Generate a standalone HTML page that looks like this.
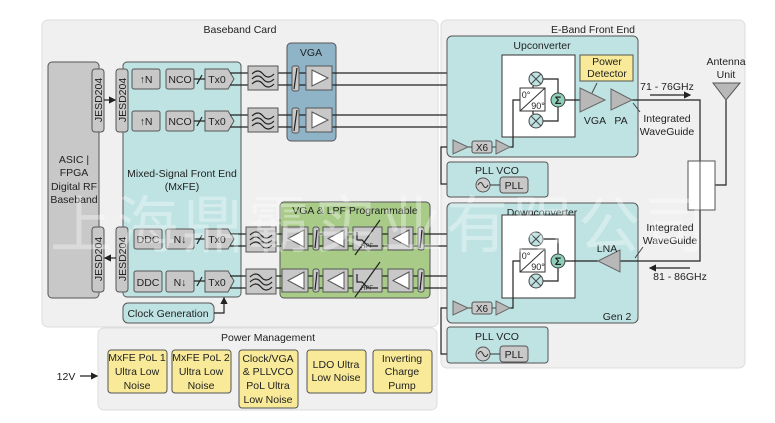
<!DOCTYPE html>
<html><head><meta charset="utf-8"><style>
body{margin:0;background:#fff}
svg{display:block}
text{font-family:"Liberation Sans","Noto Sans CJK SC",sans-serif;font-size:10.5px;fill:#222;text-anchor:middle}
.b{stroke:#555;stroke-width:1}
.g{fill:#c8c8c8;stroke:#555}
.l{stroke:#222;stroke-width:1.2;fill:none}
</style></head><body>
<svg width="775" height="423" viewBox="0 0 775 423" xmlns="http://www.w3.org/2000/svg">
<defs>
<marker id="ar" markerWidth="6" markerHeight="6" refX="5" refY="3" orient="auto"><path d="M0,0 L6,3 L0,6z" fill="#222"/></marker>
</defs>
<rect x="42" y="20" width="396" height="307" rx="6" fill="#f0f0f0" stroke="#ddd"/>
<text x="240" y="33">Baseband Card</text>
<rect x="441" y="20" width="304" height="348" rx="6" fill="#f0f0f0" stroke="#ddd"/>
<text x="593" y="33">E-Band Front End</text>
<rect x="98" y="328" width="339" height="82" rx="6" fill="#f0f0f0" stroke="#ddd"/>
<text x="268" y="341">Power Management</text>

<rect x="48" y="62" width="51" height="236" rx="4" class="g"/>
<text x="74" y="163">ASIC |</text><text x="74" y="176">FPGA</text><text x="74" y="190">Digital RF</text><text x="74" y="203">Baseband</text>
<rect x="123" y="62" width="118" height="235" rx="4" fill="#bfe3e3" stroke="#555"/>
<text x="182" y="177">Mixed-Signal Front End</text><text x="182" y="190">(MxFE)</text>
<g class="g">
<rect x="92" y="69" width="12" height="63" rx="3"/><rect x="116" y="69" width="12" height="63" rx="3"/>
<rect x="92" y="227" width="12" height="65" rx="3"/><rect x="116" y="227" width="12" height="65" rx="3"/>
</g>
<g style="font-size:10px">
<text transform="translate(102,100) rotate(-90)">JESD204</text>
<text transform="translate(126,100) rotate(-90)">JESD204</text>
<text transform="translate(102,259) rotate(-90)">JESD204</text>
<text transform="translate(126,259) rotate(-90)">JESD204</text>
</g>
<line x1="104" y1="100" x2="115" y2="100" class="l" marker-end="url(#ar)"/>
<line x1="116" y1="258" x2="105" y2="258" class="l" marker-end="url(#ar)"/>

<g class="g">
<rect x="132" y="69" width="28" height="20" rx="2"/><rect x="166" y="69" width="28" height="20" rx="2"/>
<rect x="132" y="111" width="28" height="20" rx="2"/><rect x="166" y="111" width="28" height="20" rx="2"/>
<rect x="134" y="229" width="28" height="20" rx="2"/><rect x="166" y="229" width="28" height="20" rx="2"/>
<rect x="134" y="271" width="28" height="21" rx="2"/><rect x="166" y="271" width="28" height="21" rx="2"/>
<path d="M205,69 H228 L234,79 L228,89 H205z"/><path d="M205,111 H228 L234,121 L228,131 H205z"/>
<path d="M205,229 H228 L234,239 L228,249 H205z"/><path d="M205,271 H228 L234,281 L228,292 H205z"/>
</g>
<text x="146" y="83">↑N</text><text x="180" y="83">NCO</text><text x="217" y="83">Tx0</text>
<text x="146" y="125">↑N</text><text x="180" y="125">NCO</text><text x="217" y="125">Tx0</text>
<text x="148" y="243">DDC</text><text x="180" y="243">N↓</text><text x="217" y="243">Tx0</text>
<text x="148" y="286">DDC</text><text x="180" y="286">N↓</text><text x="217" y="286">Tx0</text>
<g class="l"><path d="M194,79H205M197,84l5,-9"/><path d="M194,121H205M197,126l5,-9"/><path d="M194,239H205M197,244l5,-9"/><path d="M194,281H205M197,286l5,-9"/></g>
<rect x="123" y="303" width="91" height="20" rx="5" fill="#bfe3e3" stroke="#555"/>
<text x="168" y="317">Clock Generation</text>
<path d="M214,313H224V298" class="l" marker-end="url(#ar)"/>

<rect x="287" y="43" width="49" height="98" rx="4" fill="#8fb4c8" stroke="#555"/>
<text x="311" y="56">VGA</text>
<rect x="280" y="202" width="150" height="96" rx="4" fill="#a8cc88" stroke="#555"/>
<text x="355" y="214">VGA &amp; LPF Programmable</text>

<g stroke="#222" stroke-width="1.2">
<line x1="230" y1="73" x2="528" y2="73"/><line x1="230" y1="85" x2="528" y2="85"/>
<line x1="230" y1="115" x2="528" y2="115"/><line x1="230" y1="127" x2="528" y2="127"/>
<line x1="230" y1="234" x2="528" y2="234"/><line x1="230" y1="246" x2="528" y2="246"/>
<line x1="230" y1="276" x2="528" y2="276"/><line x1="230" y1="288" x2="528" y2="288"/>
</g>
<g class="g">
<rect x="248" y="66" width="30" height="24"/><rect x="248" y="108" width="30" height="24"/>
<rect x="246" y="227" width="30" height="25"/><rect x="246" y="269" width="30" height="25"/>
</g>
<g class="l" stroke-width="1">
<path d="M252,74q6,-6 11,0t11,0M252,79q6,-6 11,0t11,0M252,84q6,-6 11,0t11,0"/>
<path d="M252,116q6,-6 11,0t11,0M252,121q6,-6 11,0t11,0M252,126q6,-6 11,0t11,0"/>
<path d="M250,235q6,-6 11,0t11,0M250,240q6,-6 11,0t11,0M250,245q6,-6 11,0t11,0"/>
<path d="M250,277q6,-6 11,0t11,0M250,282q6,-6 11,0t11,0M250,287q6,-6 11,0t11,0"/>
</g>
<g class="g">
<rect x="292" y="66" width="7" height="25" rx="2"/><rect x="306" y="66" width="26" height="24"/>
<rect x="292" y="108" width="7" height="25" rx="2"/><rect x="306" y="108" width="26" height="24"/>
</g>
<path d="M312,70L328,78L312,86z M312,112L328,120L312,128z" fill="#fff" stroke="#555"/>
<path d="M294,89L297,68M294,131L297,110" class="l"/>
<g class="g">
<rect x="282" y="227" width="26" height="23"/><rect x="313" y="227" width="6" height="23" rx="2"/>
<rect x="323" y="227" width="25" height="23"/><rect x="353" y="227" width="29" height="23"/>
<rect x="388" y="227" width="25" height="23"/><rect x="418" y="227" width="6" height="23" rx="2"/>
<rect x="282" y="269" width="26" height="23"/><rect x="313" y="269" width="6" height="23" rx="2"/>
<rect x="323" y="269" width="25" height="23"/><rect x="353" y="269" width="29" height="23"/>
<rect x="388" y="269" width="25" height="23"/><rect x="418" y="269" width="6" height="23" rx="2"/>
</g>
<g fill="#fff" stroke="#555">
<path d="M304,230L288,238.5L304,247z M344,230L328,238.5L344,247z M409,230L393,238.5L409,247z"/>
<path d="M304,272L288,280.5L304,289z M344,272L328,280.5L344,289z M409,272L393,280.5L409,289z"/>
</g>
<g class="l" stroke-width="1">
<path d="M315,248L317,230M420,248L422,230M315,290L317,272M420,290L422,272"/>
<path d="M357,232v8h5l6,6h10 M355,255L380,220"/>
<path d="M357,274v8h5l6,6h10 M355,297L380,262"/>
</g>
<text x="367" y="248" style="font-size:6px">HPF</text><text x="367" y="290" style="font-size:6px">HPF</text>

<rect x="447" y="36" width="191" height="121" rx="5" fill="#bfe3e3" stroke="#555"/>
<text x="542" y="49">Upconverter</text>
<rect x="502" y="55" width="73" height="82" fill="#fff" stroke="#333"/>
<rect x="447" y="203" width="191" height="120" rx="5" fill="#bfe3e3" stroke="#555"/>
<text x="542" y="216">Downconverter</text>
<text x="617" y="320">Gen 2</text>
<rect x="502" y="215" width="73" height="83" fill="#fff" stroke="#333"/>

<g class="l" stroke-width="1">
<path d="M543,79H558V93M543,121H558V107M565,100H580"/>
<path d="M510,147H513V100H520"/>
<path d="M533,88V86M533,111V114"/>
<path d="M543,239H558V254M543,281H558V268M565,261H598"/>
<path d="M510,308H513V261H520"/>
<path d="M620,261H700V210 M632,100H700V161 M715,185H726V100"/>
<path d="M447,147H441V184H475 M447,308H441V354H475"/>
</g>
<g fill="#bfe3e3" stroke="#444">
<circle cx="536" cy="79" r="7"/><circle cx="536" cy="121" r="7"/>
<circle cx="536" cy="239" r="7"/><circle cx="536" cy="281" r="7"/>
<circle cx="558" cy="100" r="7" fill="#8cd0b8"/><circle cx="558" cy="261" r="7" fill="#8cd0b8"/>
</g>
<g stroke="#444" stroke-width="1">
<path d="M531,74l10,10M541,74l-10,10M531,116l10,10M541,116l-10,10M531,234l10,10M541,234l-10,10M531,276l10,10M541,276l-10,10"/>
</g>
<text x="558" y="104" style="font-size:11px;font-weight:bold">Σ</text>
<text x="558" y="265" style="font-size:11px;font-weight:bold">Σ</text>
<rect x="520" y="88" width="25" height="23" fill="#fff" stroke="#333"/>
<rect x="520" y="249" width="25" height="23" fill="#fff" stroke="#333"/>
<path d="M520,111L545,88M520,272L545,249" stroke="#333"/>
<text x="526" y="98" style="font-size:9px">0°</text><text x="538" y="109" style="font-size:9px">90°</text>
<text x="526" y="259" style="font-size:9px">0°</text><text x="538" y="270" style="font-size:9px">90°</text>

<rect x="580" y="55" width="53" height="26" fill="#f8ea98" stroke="#555"/>
<text x="607" y="65" style="font-size:10.5px">Power</text><text x="607" y="77" style="font-size:10.5px">Detector</text>
<g fill="#b8b8b8" stroke="#666">
<path d="M580,88L605,100L580,112z"/><path d="M611,89L632,100L611,110z"/>
<path d="M620,250L598,261L620,272z"/>
<path d="M453,140L468,147L453,154z"/><path d="M496,140L510,147L496,154z"/>
<path d="M453,301L468,308L453,315z"/><path d="M496,301L510,308L496,315z"/>
</g>
<path d="M592,93L597,83" stroke="#444"/>
<rect x="472" y="141" width="20" height="12" rx="2" class="g"/><text x="482" y="151" style="font-size:10px">X6</text>
<rect x="472" y="302" width="20" height="12" rx="2" class="g"/><text x="482" y="312" style="font-size:10px">X6</text>
<path d="M468,147H472M492,147H496M468,308H472M492,308H496" stroke="#444"/>
<text x="595" y="124">VGA</text><text x="621" y="124">PA</text>
<text x="607" y="252">LNA</text>

<rect x="447" y="162" width="101" height="35" rx="3" fill="#bfe3e3" stroke="#555"/>
<text x="497" y="174">PLL VCO</text>
<circle cx="483" cy="185" r="7" fill="#ccc" stroke="#555"/>
<path d="M478,185q2.5,-5 5,0t5,0" stroke="#333" fill="none"/>
<rect x="500" y="177" width="28" height="16" rx="3" class="g"/><text x="514" y="189">PLL</text>
<path d="M490,185H500" stroke="#333"/>
<rect x="447" y="327" width="101" height="36" rx="3" fill="#bfe3e3" stroke="#555"/>
<text x="497" y="340">PLL VCO</text>
<circle cx="483" cy="354" r="7" fill="#ccc" stroke="#555"/>
<path d="M478,354q2.5,-5 5,0t5,0" stroke="#333" fill="none"/>
<rect x="500" y="346" width="28" height="16" rx="3" class="g"/><text x="514" y="358">PLL</text>
<path d="M490,354H500" stroke="#333"/>

<rect x="688" y="161" width="27" height="49" fill="#fff" stroke="#555"/>
<line x1="700" y1="161" x2="700" y2="210" stroke="#555"/>
<path d="M713,83H740L726,100z" fill="#b8b8b8" stroke="#555"/>
<text x="726" y="65">Antenna</text><text x="726" y="78">Unit</text>
<text x="667" y="90">71 - 76GHz</text>
<line x1="650" y1="95" x2="690" y2="95" class="l" marker-end="url(#ar)"/>
<text x="667" y="122">Integrated</text><text x="667" y="135">WaveGuide</text>
<path d="M640,112L633,103" stroke="#444"/>
<text x="670" y="231">Integrated</text><text x="670" y="244">WaveGuide</text>
<path d="M643,247L635,258" stroke="#444"/>
<line x1="690" y1="268" x2="650" y2="268" class="l" marker-end="url(#ar)"/>
<text x="680" y="280">81 - 86GHz</text>

<g fill="#f8ea98" stroke="#555">
<rect x="108" y="350" width="59" height="43" rx="3"/><rect x="172" y="350" width="59" height="43" rx="3"/>
<rect x="239" y="350" width="59" height="58" rx="3"/><rect x="307" y="350" width="59" height="43" rx="3"/>
<rect x="373" y="350" width="59" height="43" rx="3"/>
</g>
<g style="font-size:10.5px">
<text x="137" y="361">MxFE PoL 1</text><text x="137" y="375">Ultra Low</text><text x="137" y="389">Noise</text>
<text x="201" y="361">MxFE PoL 2</text><text x="201" y="375">Ultra Low</text><text x="201" y="389">Noise</text>
<text x="268" y="362">Clock/VGA</text><text x="268" y="375">&amp; PLLVCO</text><text x="268" y="389">PoL Ultra</text><text x="268" y="403">Low Noise</text>
<text x="336" y="368">LDO Ultra</text><text x="336" y="381">Low Noise</text>
<text x="402" y="362">Inverting</text><text x="402" y="375">Charge</text><text x="402" y="389">Pump</text>
</g>
<text x="66" y="380">12V</text>
<line x1="80" y1="376" x2="97" y2="376" class="l" marker-end="url(#ar)"/>

<text x="380" y="247" style="font-size:62px;fill:#fff;opacity:0.35;letter-spacing:4px">上海鼎霸实业有限公司</text>
</svg>
</body></html>
